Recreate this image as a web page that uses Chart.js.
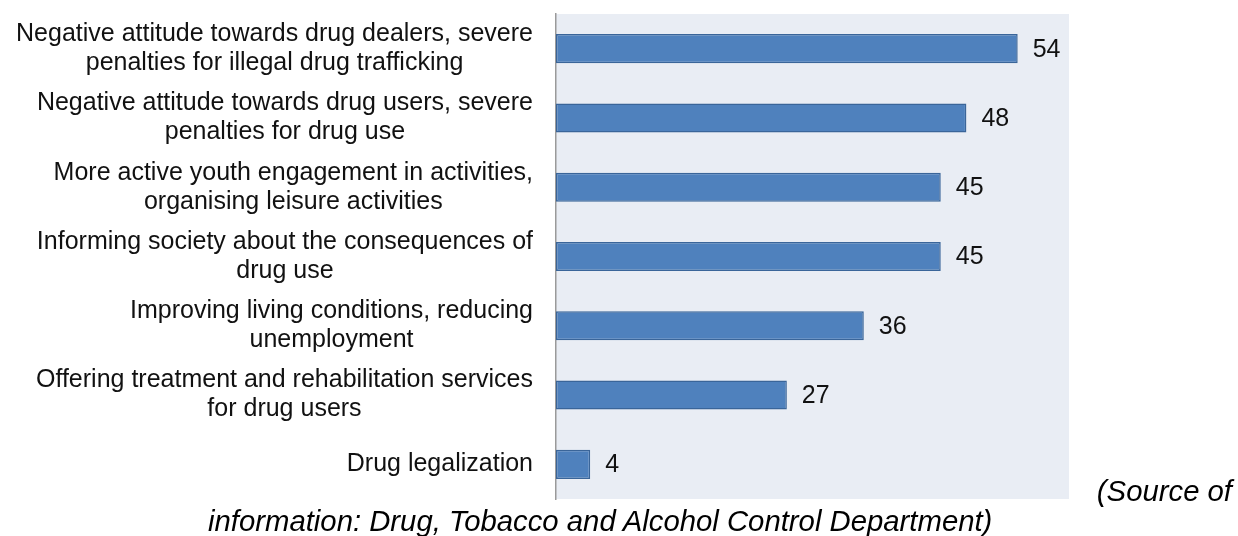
<!DOCTYPE html>
<html>
<head>
<meta charset="utf-8">
<script src="https://cdn.jsdelivr.net/npm/chart.js@4/dist/chart.umd.min.js"></script>
<style>
  html, body { margin: 0; padding: 0; background: #fff; }
  #wrap { position: relative; width: 1238px; height: 536px; overflow: hidden; }
  #chart { position: absolute; left: 0; top: 0; }
  .src { position: absolute; font: italic 29.3px "Liberation Sans", Arial, sans-serif; color: #000; white-space: nowrap; line-height: 1; }
  #src1 { right: 6px; top: 476px; }
  #src2 { left: 208px; top: 506px; }
</style>
</head>
<body>
<div id="wrap">
  <canvas id="chart" width="1238" height="536"></canvas>
  <div class="src" id="src1">(Source of</div>
  <div class="src" id="src2">information: Drug, Tobacco and Alcohol Control Department)</div>
</div>
<script>
// ================= DATA =================
const categories = [
  ["Negative attitude towards drug dealers, severe", "penalties for illegal drug trafficking"],
  ["Negative attitude towards drug users, severe", "penalties for drug use"],
  ["More active youth engagement in activities,", "organising leisure activities"],
  ["Informing society about the consequences of", "drug use"],
  ["Improving living conditions, reducing", "unemployment"],
  ["Offering treatment and rehabilitation services", "for drug users"],
  ["Drug legalization"]
];
const values = [54, 48, 45, 45, 36, 27, 4];

const FONT = '"Liberation Sans", Arial, sans-serif';

// ================= PLUGINS =================
// plot area fill
const plotBg = {
  id: "plotBg",
  beforeDraw(chart) {
    const { ctx, chartArea: a } = chart;
    ctx.save();
    ctx.fillStyle = "#E9EDF4";
    ctx.fillRect(a.left, a.top, a.right - a.left, a.bottom - a.top);
    ctx.restore();
  }
};

// category labels: block right-aligned to the axis, lines centred inside the block
const catLabels = {
  id: "catLabels",
  afterDraw(chart) {
    const { ctx } = chart;
    const y = chart.scales.y;
    ctx.save();
    ctx.font = "25px " + FONT;
    ctx.fillStyle = "#111";
    ctx.textBaseline = "middle";
    ctx.textAlign = "center";
    const right = 533, lh = 29;
    categories.forEach((lines, i) => {
      const w = Math.max(...lines.map(l => ctx.measureText(l).width));
      const cx = right - w / 2;
      const cy = y.getPixelForTick(i);
      const y0 = cy - (lines.length - 1) * lh / 2;
      lines.forEach((l, j) => ctx.fillText(l, cx, y0 + j * lh));
    });
    ctx.restore();
  }
};

// value labels at the end of each bar
const valueLabels = {
  id: "valueLabels",
  afterDatasetsDraw(chart) {
    const { ctx } = chart;
    const meta = chart.getDatasetMeta(0);
    ctx.save();
    ctx.font = "25px " + FONT;
    ctx.fillStyle = "#111";
    ctx.textBaseline = "middle";
    ctx.textAlign = "left";
    meta.data.forEach((bar, i) => {
      ctx.fillText(String(values[i]), bar.x + 15, bar.y + 1);
    });
    ctx.restore();
  }
};

// ================= CHART =================
const ctx = document.getElementById("chart").getContext("2d");

new Chart(ctx, {
  type: "bar",
  data: {
    labels: categories,
    datasets: [{
      data: values,
      backgroundColor: "#4F81BD",
      borderColor: "#3A6599",
      borderWidth: 1.5,
      borderSkipped: false,
      categoryPercentage: 1,
      barPercentage: 0.42
    }]
  },
  options: {
    indexAxis: "y",
    responsive: false,
    animation: false,
    events: [],
    layout: { padding: { top: 14, right: 169, bottom: 37, left: 0 } },
    plugins: {
      legend: { display: false },
      tooltip: { enabled: false }
    },
    scales: {
      x: {
        display: false,
        min: 0,
        max: 60
      },
      y: {
        afterFit: (scale) => { scale.width = 556; },
        ticks: { display: false },
        grid: { display: false },
        border: { display: true, color: "#9A9A9A", width: 1.5 }
      }
    }
  },
  plugins: [plotBg, catLabels, valueLabels]
});
</script>
</body>
</html>
